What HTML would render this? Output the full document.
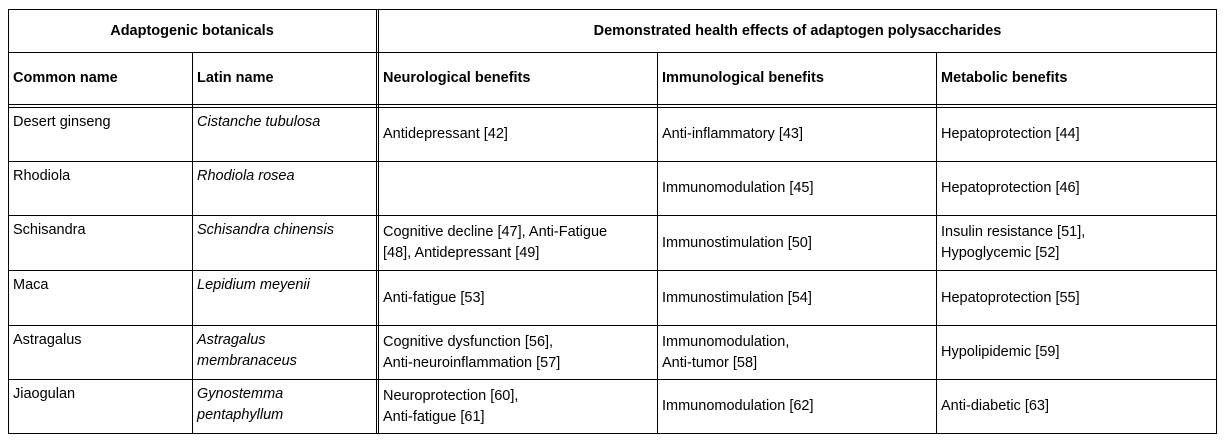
<!DOCTYPE html>
<html><head><meta charset="utf-8"><style>
body{margin:0;width:1224px;height:441px;background:#fff;position:relative;overflow:hidden;font-family:"Liberation Sans",Arial,sans-serif;font-size:14.5px;color:#000}
.l{position:absolute;background:#000}
.c{position:absolute;display:flex;align-items:center;line-height:21px;box-sizing:border-box;padding-left:5px}
.t{align-items:flex-start;padding-top:4px}
.b{font-weight:bold}
.ctr{justify-content:center;padding-left:0}
i{font-style:italic}
</style></head><body>
<div>
<!-- horizontal lines -->
<div class="l" style="left:8px;top:9px;width:1209px;height:1px"></div>
<div class="l" style="left:8px;top:52px;width:1209px;height:1px"></div>
<div class="l" style="left:8px;top:104px;width:1209px;height:1px"></div>
<div class="l" style="left:8px;top:107px;width:1209px;height:1px"></div>
<div class="l" style="left:8px;top:161px;width:1209px;height:1px"></div>
<div class="l" style="left:8px;top:215px;width:1209px;height:1px"></div>
<div class="l" style="left:8px;top:270px;width:1209px;height:1px"></div>
<div class="l" style="left:8px;top:325px;width:1209px;height:1px"></div>
<div class="l" style="left:8px;top:379px;width:1209px;height:1px"></div>
<div class="l" style="left:8px;top:433px;width:1209px;height:1px"></div>
<!-- vertical lines -->
<div class="l" style="left:8px;top:9px;width:1px;height:425px"></div>
<div class="l" style="left:192px;top:52px;width:1px;height:382px"></div>
<div class="l" style="left:376px;top:9px;width:1px;height:425px"></div>
<div class="l" style="left:378px;top:9px;width:1px;height:425px"></div>
<div class="l" style="left:657px;top:52px;width:1px;height:382px"></div>
<div class="l" style="left:936px;top:52px;width:1px;height:382px"></div>
<div class="l" style="left:1216px;top:9px;width:1px;height:425px"></div>

<div class="c b ctr" style="left:8px;top:10px;width:368px;height:42px">Adaptogenic botanicals</div>
<div class="c b ctr" style="left:379px;top:10px;width:837px;height:42px">Demonstrated health effects of adaptogen polysaccharides</div>

<div class="c b" style="left:8px;top:53px;width:184px;height:51px">Common name</div>
<div class="c b" style="left:192px;top:53px;width:184px;height:51px">Latin name</div>
<div class="c b" style="left:378px;top:53px;width:279px;height:51px">Neurological benefits</div>
<div class="c b" style="left:657px;top:53px;width:279px;height:51px">Immunological benefits</div>
<div class="c b" style="left:936px;top:53px;width:280px;height:51px">Metabolic benefits</div>

<!-- row 1 -->
<div class="c t" style="left:8px;top:108px;width:184px;height:53px">Desert ginseng</div>
<div class="c t" style="left:192px;top:108px;width:184px;height:53px"><i>Cistanche tubulosa</i></div>
<div class="c" style="left:378px;top:108px;width:279px;height:53px">Antidepressant [42]</div>
<div class="c" style="left:657px;top:108px;width:279px;height:53px">Anti-inflammatory [43]</div>
<div class="c" style="left:936px;top:108px;width:280px;height:53px">Hepatoprotection [44]</div>
<!-- row 2 -->
<div class="c t" style="left:8px;top:162px;width:184px;height:53px">Rhodiola</div>
<div class="c t" style="left:192px;top:162px;width:184px;height:53px"><i>Rhodiola rosea</i></div>
<div class="c" style="left:657px;top:162px;width:279px;height:53px">Immunomodulation [45]</div>
<div class="c" style="left:936px;top:162px;width:280px;height:53px">Hepatoprotection [46]</div>
<!-- row 3 -->
<div class="c t" style="left:8px;top:216px;width:184px;height:54px">Schisandra</div>
<div class="c t" style="left:192px;top:216px;width:184px;height:54px"><i>Schisandra chinensis</i></div>
<div class="c" style="left:378px;top:216px;width:279px;height:54px">Cognitive decline [47], Anti-Fatigue<br>[48], Antidepressant [49]</div>
<div class="c" style="left:657px;top:216px;width:279px;height:54px">Immunostimulation [50]</div>
<div class="c" style="left:936px;top:216px;width:280px;height:54px">Insulin resistance [51],<br>Hypoglycemic [52]</div>
<!-- row 4 -->
<div class="c t" style="left:8px;top:271px;width:184px;height:54px">Maca</div>
<div class="c t" style="left:192px;top:271px;width:184px;height:54px"><i>Lepidium meyenii</i></div>
<div class="c" style="left:378px;top:271px;width:279px;height:54px">Anti-fatigue [53]</div>
<div class="c" style="left:657px;top:271px;width:279px;height:54px">Immunostimulation [54]</div>
<div class="c" style="left:936px;top:271px;width:280px;height:54px">Hepatoprotection [55]</div>
<!-- row 5 -->
<div class="c t" style="left:8px;top:326px;width:184px;height:53px">Astragalus</div>
<div class="c t" style="left:192px;top:326px;width:184px;height:53px"><i>Astragalus<br>membranaceus</i></div>
<div class="c" style="left:378px;top:326px;width:279px;height:53px">Cognitive dysfunction [56],<br>Anti-neuroinflammation [57]</div>
<div class="c" style="left:657px;top:326px;width:279px;height:53px">Immunomodulation,<br>Anti-tumor [58]</div>
<div class="c" style="left:936px;top:326px;width:280px;height:53px">Hypolipidemic [59]</div>
<!-- row 6 -->
<div class="c t" style="left:8px;top:380px;width:184px;height:53px">Jiaogulan</div>
<div class="c t" style="left:192px;top:380px;width:184px;height:53px"><i>Gynostemma<br>pentaphyllum</i></div>
<div class="c" style="left:378px;top:380px;width:279px;height:53px">Neuroprotection [60],<br>Anti-fatigue [61]</div>
<div class="c" style="left:657px;top:380px;width:279px;height:53px">Immunomodulation [62]</div>
<div class="c" style="left:936px;top:380px;width:280px;height:53px">Anti-diabetic [63]</div>
</div>
</body></html>
